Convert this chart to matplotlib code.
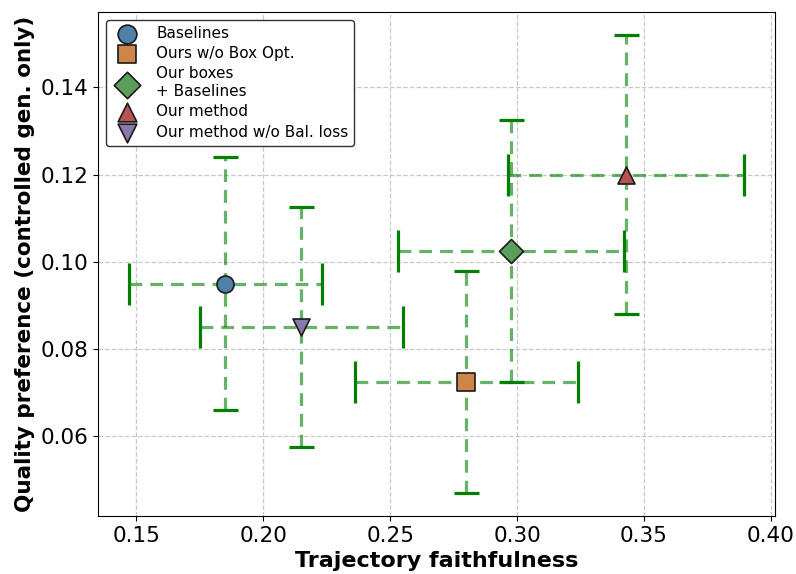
import matplotlib
matplotlib.use("Agg")
import matplotlib.pyplot as plt

labels = ["Baselines", "Ours w/o Box Opt.", "Our boxes\n+ Baselines", "Our method", "Our method w/o Bal. loss"]
x_vals = [0.185, 0.280, 0.2975, 0.343, 0.215]
y_vals = [0.095, 0.0725, 0.1025, 0.120, 0.085]
x_err = [0.038, 0.044, 0.0445, 0.0465, 0.040]
y_err = [0.029, 0.0255, 0.030, 0.032, 0.0275]
markers = ["o", "s", "D", "^", "v"]
colors = ["#4e80a8", "#cf8548", "#5a9e5c", "#b9534f", "#8a77ab"]

fig = plt.figure(figsize=(7.96, 5.74), dpi=100)
ax = fig.add_axes([98/796, 1-516/574, (775-98)/796, (516-12)/574])
ax.grid(True, linestyle="--", color="#c4c4c4", linewidth=0.9, alpha=0.9)
ax.set_axisbelow(True)


def style(eb):
    for lc in eb[2]:
        lc.set_linestyle((0, (4, 2.5)))
        lc.set_alpha(0.6)


for i in range(len(labels)):
    eb = ax.errorbar(x_vals[i], y_vals[i], xerr=x_err[i], fmt="none",
                     ecolor="green", elinewidth=2.3, capsize=15, capthick=2.3, zorder=2)
    style(eb)
    eb = ax.errorbar(x_vals[i], y_vals[i], yerr=y_err[i], fmt="none",
                     ecolor="green", elinewidth=2.3, capsize=9, capthick=2.3, zorder=2)
    style(eb)
    ax.scatter(x_vals[i], y_vals[i], marker=markers[i], s=150,
               color=colors[i], edgecolor="#1a1a1a", linewidth=1.2, label=labels[i], zorder=3)

ax.tick_params(axis="both", labelsize=15.5)
ax.set_xlabel("Trajectory faithfulness", fontsize=16, fontweight="bold")
ax.set_ylabel("Quality preference (controlled gen. only)", fontsize=15.5, fontweight="bold")
ax.set_xticks([0.15, 0.20, 0.25, 0.30, 0.35, 0.40])
ax.set_xticklabels(["0.15", "0.20", "0.25", "0.30", "0.35", "0.40"])
ax.set_yticks([0.06, 0.08, 0.10, 0.12, 0.14])
ax.set_yticklabels(["0.06", "0.08", "0.10", "0.12", "0.14"])
leg = ax.legend(loc="upper left", fontsize=11, frameon=True, edgecolor="#333333",
                framealpha=1.0, handletextpad=0.9, borderpad=0.4, labelspacing=0.35,
                markerscale=1.1)
leg.get_frame().set_linewidth(1.0)

fig.savefig("out.png", dpi=100)
